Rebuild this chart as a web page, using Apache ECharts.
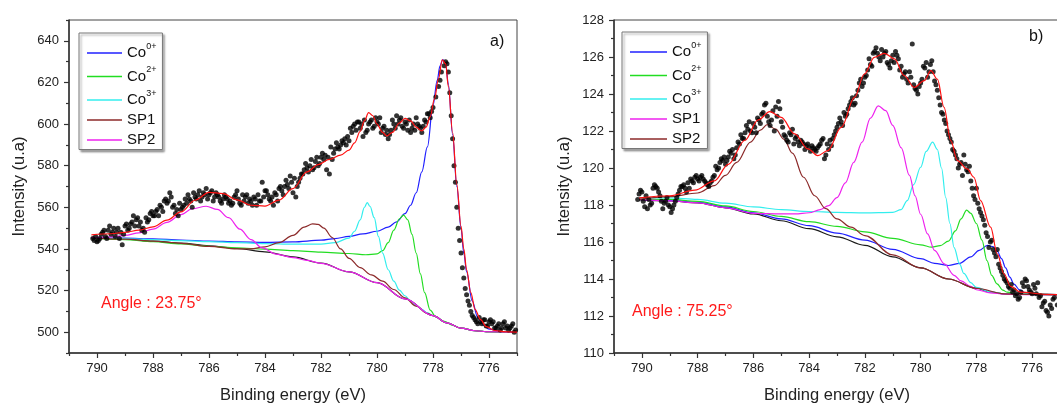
<!DOCTYPE html>
<html><head><meta charset="utf-8">
<script src="https://cdn.jsdelivr.net/npm/echarts@6/dist/echarts.min.js"></script>
<style>html,body{margin:0;padding:0;background:#fff}#c{width:1057px;height:403px}</style>
</head><body><div id="c"></div><script>
// ---------- axis ticks ----------
const xMajorTicks = [776, 778, 780, 782, 784, 786, 788, 790];
const xMinorTicks = [775, 777, 779, 781, 783, 785, 787, 789, 791];
const yMajorTicksA = [500, 520, 540, 560, 580, 600, 620, 640];
const yMinorTicksA = [490, 510, 530, 550, 570, 590, 610, 630, 650];
const yMajorTicksB = [110, 112, 114, 116, 118, 120, 122, 124, 126, 128];
const yMinorTicksB = [111, 113, 115, 117, 119, 121, 123, 125, 127];
const legendNames = ['Co0+', 'Co2+', 'Co3+', 'SP1', 'SP2'];

// ---------- panel a) angle 23.75 ----------
const aBackground = [[790.2,545.3],[789,544.7],[788,543.8],[787,542.8],[786,541.5],[785,540.2],[784,538.6],[783,536.2],[782,533.2],[781,529.0],[780,523.8],[779,516.0],[778,508.0],[777.5,504.5],[777,502],[776.5,500.7],[776,500.2],[775,500]];
const aCo0 = [[790.2,545.5],[789,545.2],[788,544.8],[787,544.3],[786,543.8],[785,543.4],[784,543.2],[783,543.4],[782,544.2],[781.5,545],[781,546],[780.5,547.2],[780,548.5],[779.6,550.5],[779.3,553],[779,557],[778.8,561],[778.6,567],[778.4,577],[778.2,589],[778,609],[777.85,621],[777.75,628],[777.65,631],[777.55,629],[777.45,619],[777.3,595],[777.15,570],[777,550],[776.9,538],[776.8,529],[776.6,515],[776.4,507],[776.2,503.5],[776,501.5],[775.5,500.2],[775,500]];
const aCo2 = [[790.2,545.3],[789,544.5],[788,543.5],[787,542.4],[786,541.3],[785,540.5],[784,539.9],[783,539.2],[782,538.5],[781,537.8],[780.4,537.2],[780,537.6],[779.8,539.2],[779.6,543],[779.4,549],[779.2,554.5],[779.05,556.2],[778.9,554],[778.75,547],[778.6,538],[778.45,528],[778.3,519],[778.1,510.6],[777.9,507.3],[777.6,505.2],[777.3,503.3],[777,502],[776.5,500.7],[776,500.2],[775,500]];
const aCo3 = [[790.2,545.5],[789,545],[788,544.5],[787,544],[786,543.5],[785,543],[784,542.6],[783,542.3],[782,542.3],[781.5,543],[781,545.2],[780.8,548.5],[780.6,554],[780.45,560],[780.35,562.3],[780.25,560.5],[780.1,555],[779.95,546],[779.8,538],[779.6,530],[779.4,524.5],[779.2,520.2],[779,517.5],[778.8,515],[778.6,512.8],[778.4,511],[778.2,509.3],[778,508],[777.5,504.5],[777,502],[776.5,500.7],[776,500.2],[775,500]];
const aSP1 = [[790.2,545.3],[789,544.7],[788,543.8],[787,542.7],[786,541.2],[785,540],[784.5,540],[784,541],[783.5,543],[783,546.5],[782.6,550.5],[782.3,552],[782.1,551.8],[781.9,550],[781.6,545.5],[781.3,540],[781,535.5],[780.6,531],[780.2,527.5],[779.8,524.5],[779.4,520.5],[779,516.5],[778.6,512.5],[778.2,509],[778,508],[777.5,504.5],[777,502],[776.5,500.7],[776,500.2],[775,500]];
const aSP2 = [[790.2,545.5],[789.5,545.8],[789,546.5],[788.5,547.7],[788,549.5],[787.5,552.8],[787,556.5],[786.6,559.3],[786.1,560.5],[785.7,559],[785.3,555],[784.9,549.5],[784.5,544.5],[784.1,540.5],[783.6,537.5],[783,535.8],[782.5,534.5],[782,533.1],[781,529],[780,523.8],[779,516],[778,508],[777.5,504.5],[777,502],[776.5,500.7],[776,500.2],[775,500]];
const aEnvelope = [[790.2,546.8],[789.5,547.3],[789,548],[788.5,549],[788,550.6],[787.5,553.8],[787,557.8],[786.5,563.4],[786,567.2],[785.5,566.6],[785,563.6],[784.5,561],[784,560.6],[783.5,563.5],[783,569],[782.5,577],[782.1,580.5],[781.7,583],[781.3,585.1],[781,587.5],[780.8,591],[780.6,596.5],[780.45,601.5],[780.3,605.5],[780.15,604],[780,600],[779.8,596],[779.65,594.3],[779.45,596],[779.2,600.5],[779.0,602.7],[778.8,601.5],[778.6,598.5],[778.4,596.7],[778.25,598.5],[778.1,603.5],[777.95,612],[777.8,622],[777.67,630.8],[777.55,629],[777.45,618],[777.3,596],[777.15,571],[777,551],[776.9,540],[776.8,530],[776.65,519],[776.5,511],[776.3,506],[776.1,502.7],[775.8,500.8],[775.4,500.2],[775,500]];
const aPoints = [[790.1,544],[790.0,543.5],[789.9,545],[789.8,548],[789.7,546],[789.6,549],[789.5,547],[789.4,550],[789.3,548],[789.2,545],[789.1,542],[789.0,551],[788.9,549],[788.8,552],[788.7,556],[788.6,554],[788.5,551],[788.4,549],[788.3,548],[788.2,553],[788.1,557],[788.0,556],[787.9,558],[787.8,556],[787.7,560],[787.6,563],[787.5,562],[787.4,567],[787.3,560],[787.2,557],[787.1,556],[787.0,559],[786.9,561],[786.8,562],[786.7,564],[786.6,560],[786.5,565],[786.4,566],[786.3,563],[786.2,567],[786.1,569],[786.0,566],[785.9,568],[785.8,565],[785.7,566],[785.6,563],[785.5,564],[785.4,565],[785.3,562],[785.2,561],[785.1,565],[785.0,568],[784.9,562],[784.8,566],[784.7,565],[784.6,562],[784.5,563],[784.4,565],[784.3,561],[784.2,563],[784.1,572],[784.0,568],[783.9,566],[783.8,563],[783.7,561],[783.6,566],[783.5,569],[783.4,568],[783.3,570],[783.2,571],[783.1,575],[783.0,567],[782.9,565],[782.8,572],[782.7,576],[782.6,578],[782.5,579],[782.4,580],[782.3,578],[782.2,582],[782.1,580],[782.0,584],[781.9,583],[781.8,578],[781.7,576],[781.6,583],[781.5,588],[781.4,589],[781.3,590],[781.2,591],[781.1,590],[781.0,592],[780.9,596],[780.8,600],[780.7,601],[780.6,598],[780.5,594],[780.4,596],[780.3,600],[780.2,602],[780.1,599],[780.0,601],[779.9,603],[779.8,598],[779.7,595],[779.6,593],[779.5,597],[779.4,600],[779.3,604],[779.2,602],[779.1,599],[779.0,601],[778.9,597],[778.8,596],[778.7,600],[778.6,603],[778.5,599],[778.4,596],[778.3,602],[778.2,605],[778.1,603],[778.0,608],[777.9,613],[777.8,618],[777.75,621],[777.7,625],[777.6,628],[777.55,630],[777.5,629],[777.45,625],[777.4,615],[777.35,604],[777.3,593],[777.25,580],[777.2,572],[777.15,560],[777.1,550],[777.05,544],[777.0,538],[776.95,531],[776.9,526],[776.85,521],[776.8,518],[776.75,515],[776.7,513],[776.65,510],[776.6,508],[776.5,506],[776.4,504],[776.3,505],[776.2,506],[776.1,503],[776.0,505],[775.9,504],[775.8,502],[775.7,503],[775.6,501],[775.5,504],[775.4,502],[775.3,501],[775.2,503],[775.1,500],[775.05,501]];
const aPointsExtra = [[790.15,545],[790.05,546],[789.95,544],[789.85,547],[789.75,549],[789.65,545],[789.55,551],[789.45,548],[789.35,546],[789.25,550],[789.15,548],[789.05,547],[788.95,552],[788.85,550],[788.75,553],[788.65,551],[788.55,555],[788.45,553],[788.35,550],[788.25,555],[788.15,554],[788.05,558],[787.95,556],[787.85,559],[787.75,561],[787.65,558],[787.55,564],[787.45,563],[787.35,565],[787.25,561],[787.15,559],[787.05,562],[786.95,560],[786.85,564],[786.75,566],[786.65,563],[786.55,567],[786.45,564],[786.35,568],[786.25,565],[786.15,566],[786.05,564],[785.95,567],[785.85,563],[785.75,567],[785.65,565],[785.55,562],[785.45,566],[785.35,564],[785.25,563],[785.15,562],[785.05,566],[784.95,564],[784.85,561],[784.75,563],[784.65,566],[784.55,564],[784.45,561],[784.35,564],[784.25,566],[784.15,563],[784.05,565],[783.95,568],[783.85,564],[783.75,565],[783.65,567],[783.55,563],[783.45,570],[783.35,566],[783.25,573],[783.15,569],[783.05,572],[782.95,574],[782.85,570],[782.75,574],[782.65,576],[782.55,581],[782.45,577],[782.35,583],[782.25,579],[782.15,584],[782.05,581],[781.95,586],[781.85,585],[781.75,584],[781.65,589],[781.55,586],[781.45,591],[781.35,588],[781.25,592],[781.15,593],[781.05,594],[780.95,598],[780.85,599],[780.75,597],[780.65,601],[780.55,600],[780.45,602],[780.35,597],[780.25,601],[780.15,598],[780.05,603],[779.95,600],[779.85,596],[779.75,599],[779.65,597],[779.55,595],[779.45,602],[779.35,598],[779.25,600],[779.15,603],[779.05,598],[778.95,600],[778.85,602],[778.75,598],[778.65,597],[778.55,600],[778.45,598],[778.35,599],[778.25,601],[778.15,605],[778.05,606],[776.55,507],[776.45,505],[776.35,507],[776.25,504],[776.15,506],[776.05,503],[775.95,506],[775.85,505],[775.75,502],[775.65,504],[775.55,502],[775.45,505],[775.35,503],[775.25,502],[775.15,504]];

// ---------- panel b) angle 75.25 ----------
const bBackground = [[790.1,118.28],[789,118.22],[788,118.12],[787,117.85],[786,117.52],[785,117.15],[784,116.72],[783,116.28],[782,115.82],[781,115.2],[780,114.6],[779,114.0],[778,113.5],[777.5,113.3],[777,113.2],[776,113.17],[775,113.15]];
const bCo0 = [[790.1,118.3],[789,118.25],[788,118.15],[787,117.9],[786,117.58],[785,117.25],[784,116.88],[783,116.48],[782,116.1],[781,115.6],[780,115.1],[779.5,114.85],[779,114.73],[778.6,114.85],[778.2,115.2],[777.9,115.55],[777.6,115.82],[777.4,115.75],[777.25,115.5],[777.1,115.1],[776.95,114.6],[776.8,114.1],[776.65,113.72],[776.45,113.42],[776.3,113.28],[776,113.18],[775,113.15]];
const bCo2 = [[790.1,118.3],[789,118.3],[788,118.2],[787,117.95],[786,117.65],[785,117.38],[784,117.1],[783,116.85],[782,116.55],[781,116.2],[780,115.85],[779.6,115.72],[779.3,115.8],[779.0,116.05],[778.75,116.6],[778.55,117.25],[778.35,117.72],[778.2,117.55],[778.0,117.0],[777.8,116.1],[777.62,115.0],[777.45,114.2],[777.26,113.74],[777.05,113.4],[776.9,113.29],[776.5,113.18],[775,113.15]];
const bCo3 = [[790.1,118.4],[789,118.38],[788,118.3],[787,118.1],[786,117.9],[785,117.75],[784,117.65],[783,117.6],[782,117.57],[781,117.6],[780.7,117.75],[780.48,118.24],[780.25,119.1],[780.0,120.04],[779.8,120.9],[779.57,121.4],[779.4,121.0],[779.25,120.0],[779.1,118.4],[778.95,117.0],[778.8,115.7],[778.6,114.8],[778.45,114.3],[778.2,113.8],[778,113.55],[777.5,113.3],[777,113.2],[776,113.17],[775,113.15]];
const bSP1 = [[790.1,118.3],[789,118.22],[788,118.12],[787,117.85],[786,117.55],[785,117.52],[784.5,117.52],[784,117.58],[783.6,117.75],[783.3,117.97],[783,118.4],[782.7,119.2],[782.4,120.3],[782.1,121.4],[781.8,122.7],[781.52,123.36],[781.25,123.1],[781,122.3],[780.7,121.1],[780.4,119.6],[780.2,118.5],[780,117.5],[779.75,116.44],[779.5,115.55],[779.15,114.82],[778.8,114.2],[778.55,113.9],[778.2,113.6],[778,113.42],[777.5,113.25],[777,113.18],[776,113.16],[775,113.15]];
const bSP2 = [[790.1,118.3],[789,118.45],[788,118.65],[787.4,119.05],[787,119.6],[786.6,120.3],[786.1,121.4],[785.75,122.05],[785.5,122.35],[785.2,122.1],[784.9,121.55],[784.6,120.8],[784.2,119.5],[783.8,118.5],[783.4,117.8],[783,117.25],[782.5,116.8],[782,116.35],[781,115.3],[780,114.6],[779,114.0],[778,113.5],[777,113.2],[776,113.17],[775,113.15]];
const bEnvelope = [[790.1,118.39],[789,118.5],[788.1,118.8],[787.4,119.3],[786.9,120.2],[786.3,121.5],[785.83,122.6],[785.41,123.05],[785.0,122.74],[784.52,121.84],[784.04,121.03],[783.69,120.67],[783.33,120.94],[782.85,122.2],[782.37,123.82],[782.02,125.08],[781.66,125.98],[781.3,126.2],[780.94,125.9],[780.59,125.0],[780.23,124.36],[779.87,124.72],[779.63,125.26],[779.4,124.8],[779.16,123.28],[778.92,121.48],[778.68,120.4],[778.33,119.95],[778.09,119.5],[777.85,118.24],[777.49,116.8],[777.25,115.36],[777.01,114.28],[776.77,113.6],[776.42,113.29],[775.46,113.17],[775,113.15]];
const bPoints = [[790.1,118.6],[790.05,118.8],[790.0,118.7],[789.95,118.2],[789.9,117.9],[789.8,117.8],[789.7,118.0],[789.6,118.9],[789.5,119.0],[789.4,118.7],[789.3,118.2],[789.2,118.1],[789.1,118.4],[789.0,117.9],[788.9,117.8],[788.8,118.2],[788.7,118.6],[788.6,119.0],[788.5,119.1],[788.4,118.7],[788.3,118.9],[788.2,119.3],[788.1,119.5],[788.0,119.4],[787.9,119.5],[787.8,119.4],[787.7,119.2],[787.6,119.0],[787.5,119.3],[787.4,119.6],[787.3,119.9],[787.2,120.3],[787.1,120.4],[787.0,120.2],[786.9,120.6],[786.8,120.8],[786.7,120.5],[786.6,121.1],[786.5,121.3],[786.4,121.6],[786.3,121.9],[786.2,122.1],[786.1,122.0],[786.0,122.4],[785.9,121.9],[785.8,122.6],[785.7,122.9],[785.6,123.4],[785.5,122.8],[785.4,122.3],[785.3,123.1],[785.2,123.3],[785.1,123.6],[785.0,122.5],[784.9,121.8],[784.8,121.5],[784.7,121.9],[784.6,122.1],[784.5,121.6],[784.4,121.4],[784.3,121.5],[784.2,121.3],[784.1,121.2],[784.0,121.1],[783.9,121.2],[783.8,121.0],[783.7,121.1],[783.6,121.3],[783.5,121.6],[783.4,120.7],[783.3,121.0],[783.2,121.2],[783.1,121.8],[783.0,122.2],[782.9,122.7],[782.8,122.3],[782.7,122.8],[782.6,123.2],[782.5,123.6],[782.4,123.4],[782.3,123.9],[782.2,124.6],[782.1,124.4],[782.0,124.9],[781.9,125.3],[781.8,125.6],[781.7,126.2],[781.6,126.5],[781.5,126.0],[781.4,126.4],[781.3,126.2],[781.2,125.7],[781.1,125.4],[781.0,126.1],[780.9,126.3],[780.8,125.9],[780.7,125.5],[780.6,125.1],[780.5,124.8],[780.4,125.2],[780.3,126.7],[780.2,124.3],[780.1,124.0],[780.0,124.6],[779.9,125.5],[779.8,125.7],[779.7,125.2],[779.6,125.8],[779.5,124.7],[779.4,124.2],[779.3,123.4],[779.2,122.9],[779.1,122.4],[779.0,121.8],[778.9,121.4],[778.8,120.9],[778.7,120.5],[778.6,120.2],[778.5,119.6],[778.45,120.7],[778.4,120.2],[778.3,119.8],[778.2,119.3],[778.1,118.5],[778.0,118.9],[777.9,117.8],[777.8,117.4],[777.7,116.9],[777.6,116.3],[777.5,116.0],[777.4,115.6],[777.3,115.2],[777.2,114.8],[777.1,114.4],[777.0,114.0],[776.9,113.8],[776.8,113.5],[776.7,113.3],[776.6,113.1],[776.5,112.9],[776.4,113.3],[776.3,113.6],[776.2,113.9],[776.1,113.4],[776.0,113.2],[775.9,113.5],[775.8,113.8],[775.7,113.1],[775.6,112.7],[775.5,112.3],[775.4,112.0],[775.3,112.4],[775.2,113.0],[775.1,112.6]];
const bPointsExtra = [[790.15,118.3],[789.85,118.5],[789.75,118.3],[789.65,118.1],[789.55,119.1],[789.45,118.9],[789.35,118.5],[789.25,117.8],[789.15,118.2],[789.05,118.0],[788.95,117.6],[788.85,118.0],[788.75,118.4],[788.65,118.8],[788.55,119.0],[788.45,118.9],[788.35,119.2],[788.25,119.4],[788.15,119.2],[788.05,119.6],[787.95,119.3],[787.85,119.6],[787.75,119.3],[787.65,119.1],[787.55,119.2],[787.45,119.5],[787.35,120.1],[787.25,120.0],[787.15,120.5],[787.05,120.6],[786.95,120.4],[786.85,120.9],[786.75,121.0],[786.65,120.7],[786.55,121.4],[786.45,121.8],[786.35,121.6],[786.25,122.3],[786.15,122.5],[786.05,121.9],[785.95,122.2],[785.85,122.7],[785.75,122.4],[785.65,123.0],[785.55,123.5],[785.45,122.5],[785.35,122.6],[785.25,122.0],[785.15,122.8],[785.05,123.2],[784.95,122.2],[784.85,121.7],[784.75,121.4],[784.65,121.8],[784.55,121.3],[784.45,121.7],[784.35,121.2],[784.25,121.4],[784.15,121.0],[784.05,121.3],[783.95,120.9],[783.85,121.1],[783.75,120.9],[783.65,121.2],[783.55,121.5],[783.45,120.5],[783.35,121.3],[783.25,121.5],[783.15,121.6],[783.05,122.0],[782.95,122.4],[782.85,122.5],[782.75,123.0],[782.65,122.9],[782.55,123.4],[782.45,123.8],[782.35,123.5],[782.25,124.2],[782.15,124.8],[782.05,124.6],[781.95,125.0],[781.85,125.9],[781.75,125.5],[781.65,126.3],[781.55,126.2],[781.45,125.8],[781.35,126.0],[781.25,126.3],[781.15,125.6],[781.05,125.8],[780.95,125.7],[780.85,126.1],[780.75,125.3],[780.65,124.9],[780.55,125.2],[780.45,124.6],[780.35,124.9],[780.25,124.5],[780.15,124.2],[780.05,124.4],[779.95,124.8],[779.85,125.4],[779.75,124.9],[779.65,125.6],[779.55,125.2],[779.45,124.5],[779.35,123.8],[779.25,123.0],[779.15,122.6],[779.05,122.0],[778.95,121.6],[778.85,121.0],[778.75,120.7],[778.65,120.0],[778.55,120.3],[778.35,119.9],[778.25,120.1],[778.15,118.9],[778.05,118.3],[777.95,118.1],[777.85,117.6],[777.75,117.2],[777.65,116.5],[777.55,115.7],[777.45,116.1],[777.35,115.4],[777.25,115.6],[777.15,114.6],[777.05,114.2],[776.95,113.9],[776.85,113.6],[776.75,113.7],[776.65,113.4],[776.55,113.2],[776.45,113.0],[776.35,113.8],[776.25,114.0],[776.15,113.6],[776.05,113.3],[775.95,113.7],[775.85,113.2],[775.75,113.0],[775.65,112.5],[775.55,112.8],[775.45,112.2],[775.35,112.6],[775.25,112.9]];

// ---------- styling ----------
const FONT = '"Liberation Sans", Arial, sans-serif';
const C = { blue:'#2020ff', green:'#22dd22', cyan:'#33eeee', brown:'#8c2a2a', magenta:'#ee22ee', red:'#ff1010', black:'#1a1a1a' };

function lineSeries(name, data, color, gi, z) {
  return { name, type:'line', data, xAxisIndex: gi*2, yAxisIndex: gi*2, smooth: 0.35, smoothMonotone: 'x',
    symbol:'none', showSymbol:false, lineStyle:{ color, width:1.2 }, itemStyle:{ color }, z: z || 2, silent:true };
}
function scatterSeries(data, gi) {
  return { type:'scatter', data, xAxisIndex: gi*2, yAxisIndex: gi*2, symbol:'circle', symbolSize:5,
    itemStyle:{ color:'#000' }, z: 3, silent:true };
}
function mainX(gi) {
  return { type:'value', gridIndex:gi, min:775, max:791, inverse:true, position:'bottom',
    name:'Binding energy (eV)', nameLocation:'middle', nameGap:34,
    nameTextStyle:{ fontFamily:FONT, fontSize:16.5, color:'#222' },
    axisLine:{ onZero:false, lineStyle:{ color:'#333', width:1.5 } },
    axisTick:{ customValues:xMajorTicks, length:5, lineStyle:{ color:'#333', width:1.2 } },
    axisLabel:{ customValues:xMajorTicks, margin:9, fontFamily:FONT, fontSize:13, color:'#222' },
    splitLine:{ show:false } };
}
function minorX(gi) {
  return { type:'value', gridIndex:gi, min:775, max:791, inverse:true, position:'bottom',
    axisLine:{ show:false, onZero:false }, axisLabel:{ show:false }, splitLine:{ show:false },
    axisTick:{ customValues:xMinorTicks, length:3, lineStyle:{ color:'#333', width:1.2 } } };
}
function mainY(gi, min, max, ticks, gap) {
  return { type:'value', gridIndex:gi, min, max, position:'left',
    name:'Intensity (u.a)', nameLocation:'middle', nameGap:gap,
    nameTextStyle:{ fontFamily:FONT, fontSize:16.5, color:'#222' },
    axisLine:{ onZero:false, lineStyle:{ color:'#333', width:1.5 } },
    axisTick:{ customValues:ticks, length:5, lineStyle:{ color:'#333', width:1.2 } },
    axisLabel:{ customValues:ticks, margin:10, fontFamily:FONT, fontSize:13, color:'#222' },
    splitLine:{ show:false } };
}
function minorY(gi, min, max, ticks) {
  return { type:'value', gridIndex:gi, min, max, position:'left',
    axisLine:{ show:false, onZero:false }, axisLabel:{ show:false }, splitLine:{ show:false },
    axisTick:{ customValues:ticks, length:3, lineStyle:{ color:'#333', width:1.2 } } };
}
function legend(prefix, left, top, itemWidth) {
  return { orient:'vertical', left, top, itemWidth, itemHeight:1.6, itemGap:5, padding:[9,6,2,8],
    icon:'rect',
    data: legendNames.map(n => prefix + n),
    backgroundColor:'#fff', borderColor:'#777', borderWidth:1,
    shadowColor:'rgba(0,0,0,0.35)', shadowBlur:2, shadowOffsetX:2, shadowOffsetY:2,
    selectedMode:false,
    formatter: name => { const t = name.slice(2); return t.startsWith('Co') ? '{b|Co}{s|' + t.slice(2) + '}' : '{p|' + t + '}'; },
    textStyle:{ fontFamily:FONT, color:'#111', rich:{
      b:{ fontFamily:FONT, fontSize:15, lineHeight:22, color:'#111' },
      s:{ fontFamily:FONT, fontSize:9, lineHeight:9, verticalAlign:'top', color:'#111' },
      p:{ fontFamily:FONT, fontSize:15, lineHeight:18, color:'#111' } } } };
}

const option = {
  animation:false,
  backgroundColor:'#fff',
  grid:[
    { left:69, top:20, width:448, height:333, show:true, borderColor:'#444', borderWidth:1, backgroundColor:'transparent', outerBoundsMode:'none', containLabel:false },
    { left:614, top:20, width:446, height:333, show:true, borderColor:'#444', borderWidth:1, backgroundColor:'transparent', outerBoundsMode:'none', containLabel:false }
  ],
  xAxis:[ mainX(0), minorX(0), mainX(1), minorX(1) ],
  yAxis:[ mainY(0, 490, 650, yMajorTicksA, 41), minorY(0, 490, 650, yMinorTicksA),
          mainY(1, 110, 128, yMajorTicksB, 41), minorY(1, 110, 128, yMinorTicksB) ],
  legend:[ legend('a_', 79, 33, 35), legend('b_', 622, 32, 37) ],
  graphic:[
    { type:'text', left:490, top:34, style:{ text:'a)', font:'16px ' + FONT, fill:'#111' } },
    { type:'text', left:1029, top:29, style:{ text:'b)', font:'16px ' + FONT, fill:'#111' } },
    { type:'text', left:101, top:296, style:{ text:'Angle : 23.75°', font:'16px ' + FONT, fill:'#ff1a1a' } },
    { type:'text', left:632, top:304, style:{ text:'Angle : 75.25°', font:'16px ' + FONT, fill:'#ff1a1a' } }
  ],
  series:[
    lineSeries('a_bg', aBackground, C.black, 0, 1),
    lineSeries('a_Co0+', aCo0, C.blue, 0),
    lineSeries('a_Co2+', aCo2, C.green, 0),
    lineSeries('a_Co3+', aCo3, C.cyan, 0),
    lineSeries('a_SP1', aSP1, C.brown, 0),
    lineSeries('a_SP2', aSP2, C.magenta, 0),
    scatterSeries(aPoints.concat(aPointsExtra), 0),
    lineSeries('a_env', aEnvelope, C.red, 0, 4),
    lineSeries('b_bg', bBackground, C.black, 1, 1),
    lineSeries('b_Co0+', bCo0, C.blue, 1),
    lineSeries('b_Co2+', bCo2, C.green, 1),
    lineSeries('b_Co3+', bCo3, C.cyan, 1),
    lineSeries('b_SP1', bSP1, C.magenta, 1),
    lineSeries('b_SP2', bSP2, C.brown, 1),
    scatterSeries(bPoints.concat(bPointsExtra), 1),
    lineSeries('b_env', bEnvelope, C.red, 1, 4)
  ]
};
const chart = echarts.init(document.getElementById('c'), null, { renderer:'canvas' });
chart.setOption(option);
</script></body></html>
